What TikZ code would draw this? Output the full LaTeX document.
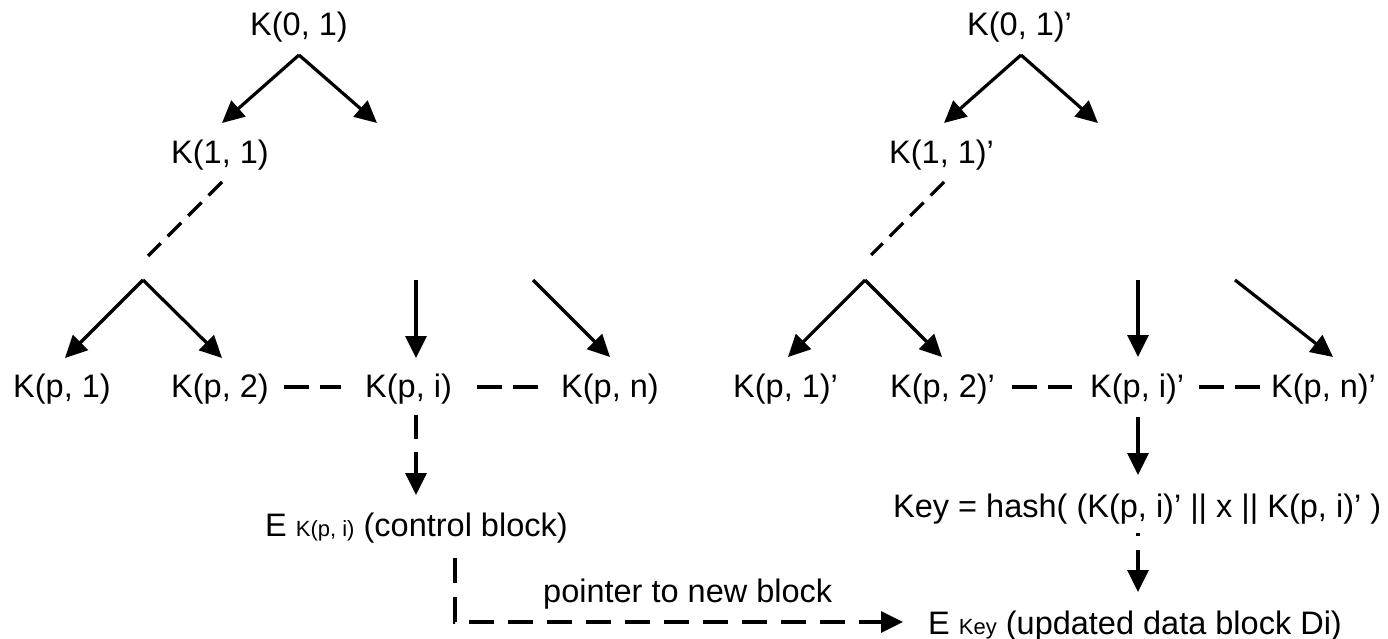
\documentclass[tikz,border=0pt]{standalone}
\usepackage{fontspec}
\setmainfont{Liberation Sans}
\usetikzlibrary{arrows.meta}

\begin{document}
\begin{tikzpicture}[x=1pt,y=-1pt,
  lbl/.style={anchor=base west,inner sep=0pt,font=\fontsize{32.5}{38}\selectfont},
  conn/.style={line width=3.2pt},
  arr/.style={conn,-{Triangle[length=22pt,width=21pt]}},
  dsh/.style={dash pattern=on 24pt off 13pt},
  diagdash/.style={conn,dash pattern=on 19pt off 9.9pt},
  rowdash/.style={conn,dash pattern=on 25pt off 11pt},
]
\newcommand{\subtxt}[1]{{\fontsize{22}{22}\selectfont #1}}
\useasboundingbox (0,0) rectangle (1388,639);

% ---------- left tree ----------
\node[lbl] (k01)  at (250,36)  {K(0, 1)};
\node[lbl] (k11)  at (171,164) {K(1, 1)};
\node[lbl] (kp1)  at (13,397)  {K(p, 1)};
\node[lbl] (kp2)  at (171,397) {K(p, 2)};
\node[lbl] (kpi)  at (365,397) {K(p, i)};
\node[lbl] (kpn)  at (561,397) {K(p, n)};
\node[lbl] (ctrl) at (265,536) {E \subtxt{K(p, i)} (control block)};

\coordinate (a0)  at (299,55);
\coordinate (t0l) at (222,123);
\coordinate (t0r) at (377,123);
\coordinate (d0s) at (222,182);
\coordinate (d0e) at (148,256);
\coordinate (a1)  at (143,280);
\coordinate (t1a) at (65,358);
\coordinate (t1b) at (222,358);
\coordinate (v1s) at (416,280);
\coordinate (v1e) at (416,358);
\coordinate (g1s) at (533,280);
\coordinate (g1e) at (610,357);
\coordinate (c1s) at (416,415);
\coordinate (c1e) at (416,495);
\coordinate (p1s) at (455,558);

\draw[arr] (a0) -- (t0l);
\draw[arr] (a0) -- (t0r);
\draw[diagdash] (d0s) -- (d0e);
\draw[arr] (a1) -- (t1a);
\draw[arr] (a1) -- (t1b);
\draw[arr] (v1s) -- (v1e);
\draw[arr] (g1s) -- (g1e);
\draw[rowdash] ([xshift=15pt,yshift=10pt]kp2.base east) -- ([xshift=-24pt,yshift=10pt]kpi.base west);
\draw[rowdash] ([xshift=25pt,yshift=10pt]kpi.base east) -- ([xshift=-14pt,yshift=10pt]kpn.base west);
\draw[arr,dsh] (c1s) -- (c1e);

% ---------- right tree ----------
\node[lbl] (r01)  at (967,36)   {K(0, 1)’};
\node[lbl] (r11)  at (889,164)  {K(1, 1)’};
\node[lbl] (rp1)  at (733,397)  {K(p, 1)’};
\node[lbl] (rp2)  at (890,397)  {K(p, 2)’};
\node[lbl] (rpi)  at (1090,397) {K(p, i)’};
\node[lbl] (rpn)  at (1271,397) {K(p, n)’};
\node[lbl] (hash) at (893,517)  {Key = hash( (K(p, i)’ || x || K(p, i)’ )};

\coordinate (b0)  at (1021,55);
\coordinate (u0l) at (944,123);
\coordinate (u0r) at (1098,123);
\coordinate (e0s) at (944,182);
\coordinate (e0e) at (871,255);
\coordinate (b1)  at (865,280);
\coordinate (u1a) at (788,357);
\coordinate (u1b) at (942,357);
\coordinate (w1s) at (1138,280);
\coordinate (w1e) at (1138,357);
\coordinate (h1s) at (1235,280);
\coordinate (h1e) at (1333,357);
\coordinate (k1s) at (1138,417);
\coordinate (k1e) at (1138,475);
\coordinate (q1s) at (1138,533);
\coordinate (q1e) at (1138,592);

\draw[arr] (b0) -- (u0l);
\draw[arr] (b0) -- (u0r);
\draw[diagdash] (e0s) -- (e0e);
\draw[arr] (b1) -- (u1a);
\draw[arr] (b1) -- (u1b);
\draw[arr] (w1s) -- (w1e);
\draw[arr] (h1s) -- (h1e);
\draw[rowdash] ([xshift=17pt,yshift=10pt]rp2.base east) -- ([xshift=-18pt,yshift=10pt]rpi.base west);
\draw[rowdash] ([xshift=15pt,yshift=10pt]rpi.base east) -- ([xshift=-3pt,yshift=10pt]rpn.base west);
\draw[arr] (k1s) -- (k1e);
\draw[arr,dash pattern=on 3pt off 14pt on 80pt] (q1s) -- (q1e);

% ---------- link between the two blocks ----------
\node[lbl] (ekey) at (928,634) {E \subtxt{Key} (updated data block Di)};
\node[lbl] (ptr)  at (543,602) {pointer to new block};
\draw[arr,dash pattern=on 25pt off 14pt] (p1s) |- ([xshift=-25pt,yshift=12pt]ekey.base west);
\end{tikzpicture}
\end{document}
